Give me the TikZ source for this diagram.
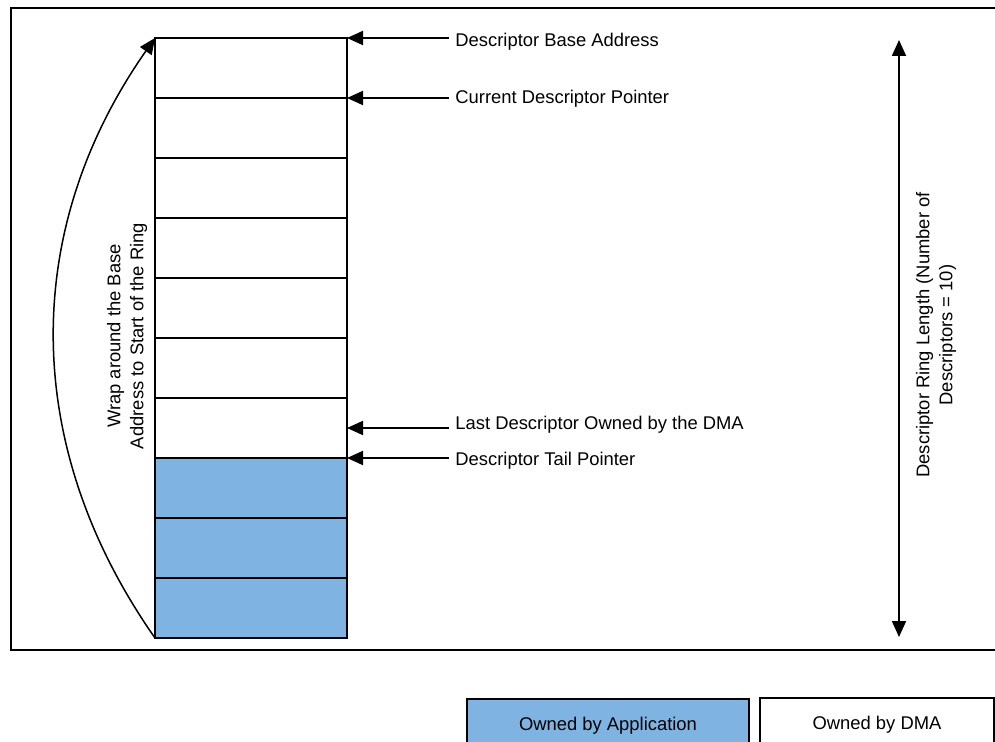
\documentclass[tikz,border=0pt]{standalone}
\usepackage{fontspec}
\setmainfont{Liberation Sans}
\usetikzlibrary{arrows.meta,positioning,calc}
\definecolor{RingBlue}{HTML}{7EB3E2}
\tikzset{row/.style={draw,line width=1.2pt,minimum width=96pt,minimum height=30pt,inner sep=0pt,outer sep=0pt},
  approw/.style={row,fill=RingBlue},
  ptr/.style={anchor=west,inner sep=3pt,font=\fontsize{9.2}{11.5}\selectfont},
  arr/.style={-{Triangle[length=8pt,width=7pt]},line width=0.9pt},
  legbox/.style={draw,align=center,inner sep=0pt,text height=9pt,text depth=2pt,font=\fontsize{9.2}{11.5}\selectfont}}

\begin{document}
\begin{tikzpicture}[x=0.5pt,y=-0.5pt]
\useasboundingbox (0,0) rectangle (995,742);
\clip (0,0) rectangle (995,742);
\draw[line width=1.25pt] (1010,8) -- (11,8) -- (11,650) -- (1010,650);
\foreach \i in {1,...,7} \node[row] (d\i) at (251,{8+60*\i}) {};
\foreach \i in {8,9,10} \node[approw] (d\i) at (251,{8+60*\i}) {};
\node[ptr] (base) at (449,42) {Descriptor Base Address};
\node[ptr] (cur) at (449,99) {Current Descriptor Pointer};
\node[ptr] (last) at (449,425) {Last Descriptor Owned by the DMA};
\node[ptr] (tail) at (449,461) {Descriptor Tail Pointer};
\draw[arr] (d1.north east -| base.west) -- (d1.north east);
\draw[arr] (d2.north east -| cur.west) -- (d2.north east);
\draw[arr] (d7.east -| last.west) -- (d7.east);
\draw[arr] (d8.north east -| tail.west) -- (d8.north east);
\draw[arr,line width=0.75pt] (d10.south west) to[bend left=35] (d1.north west);
\node[ptr,anchor=center,align=center,rotate=90] (wrap) at (127,336) {Wrap around the Base\\Address to Start of the Ring};
\coordinate (ringtop) at (899,40); \coordinate (ringbot) at (899,637);
\draw[{Triangle[length=8pt,width=7pt]}-{Triangle[length=8pt,width=7pt]},line width=0.9pt] (ringtop) -- (ringbot);
\node[ptr,anchor=center,align=center,rotate=90] (ringlen) at (936,335) {Descriptor Ring Length (Number of\\Descriptors = 10)};
\node[legbox,fill=RingBlue,line width=0.8pt,minimum width=141pt,minimum height=24.5pt] (legapp) at (608,723.5) {Owned by Application};
\node[legbox,line width=1.3pt,minimum width=117pt,minimum height=24pt] (legdma) at (877,722) {Owned by DMA};
\end{tikzpicture}
\end{document}
